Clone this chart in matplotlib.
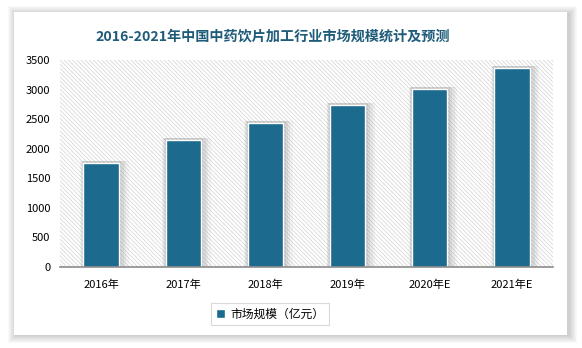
import matplotlib
matplotlib.use("Agg")
import matplotlib.pyplot as plt
from matplotlib.patches import Rectangle
import numpy as np

plt.rcParams['font.family'] = ['Noto Sans CJK SC', 'DejaVu Sans']
plt.rcParams['hatch.linewidth'] = 0.6
plt.rcParams['hatch.color'] = '#d9d9d9'

categories = ["2016年", "2017年", "2018年", "2019年", "2020年E", "2021年E"]
market_size = [1760, 2155, 2440, 2740, 3015, 3370]
yticks = [0, 500, 1000, 1500, 2000, 2500, 3000, 3500]

W, H = 582, 348
fig = plt.figure(figsize=(W / 100, H / 100), dpi=100)
fig.patch.set_facecolor('white')

# card with soft shadow
cx0, cy0, cx1, cy1 = 14, 12, 567, 335
for i in range(8, 0, -1):
    fig.patches.append(Rectangle(((cx0 - i + 2) / W, (H - cy1 - i) / H),
                                 (cx1 - cx0 + 2 * i) / W, (cy1 - cy0 + 2 * i - 2) / H,
                                 transform=fig.transFigure, facecolor='#000000',
                                 alpha=0.022, edgecolor='none', zorder=0))
fig.patches.append(Rectangle((cx0 / W, (H - cy1) / H), (cx1 - cx0) / W, (cy1 - cy0) / H,
                             transform=fig.transFigure, facecolor='white',
                             edgecolor='none', zorder=1))

ax = fig.add_axes([60 / W, (H - 267) / H, (553 - 60) / W, (267 - 60) / H])
ax.set_zorder(5)
ax.set_facecolor('none')
ax.add_patch(Rectangle((0, 0), 1, 1, transform=ax.transAxes, facecolor='white',
                       edgecolor='#d9d9d9', hatch='\\' * 8, linewidth=0, zorder=0))

x = np.arange(len(categories))
bw = 0.43
# soft bar shadow
for k, a in [(0.08, 0.06), (0.06, 0.08), (0.04, 0.10), (0.02, 0.10)]:
    ax.bar(x + k * 0.5, np.array(market_size) + 25, width=bw + 2 * k, color='#666666',
           alpha=a, linewidth=0, zorder=1)
ax.bar(x, market_size, width=bw, color='#1c6b8e', edgecolor='white', linewidth=1.0,
       zorder=2, label='市场规模（亿元）')

ax.set_xlim(-0.5, len(categories) - 0.5)
ax.set_ylim(0, 3500)
ax.set_yticks(yticks)
ax.set_xticks(x)
ax.set_xticklabels(categories)
ax.tick_params(axis='both', length=0, labelsize=8, colors='#000000')
ax.tick_params(axis='x', pad=9)
ax.tick_params(axis='y', pad=7)
for s in ['top', 'right', 'left']:
    ax.spines[s].set_visible(False)
ax.spines['bottom'].set_color('#8c8c8c')
ax.spines['bottom'].set_linewidth(1.2)
ax.spines['bottom'].set_zorder(3)

fig.text(273 / W, 1 - 37 / H, '2016-2021年中国中药饮片加工行业市场规模统计及预测',
         ha='center', va='center', fontsize=10.2, fontweight='bold', color='#1f5c7a',
         zorder=6)

leg = fig.legend(loc='center', bbox_to_anchor=(270 / W, 1 - 314 / H), fontsize=8.5,
                 frameon=True, fancybox=False, edgecolor='#d0d0d0',
                 handlelength=0.8, handleheight=0.8, handletextpad=0.4,
                 borderpad=0.4)
leg.get_frame().set_linewidth(0.8)
leg.set_zorder(6)

fig.savefig('out.png', dpi=100)
